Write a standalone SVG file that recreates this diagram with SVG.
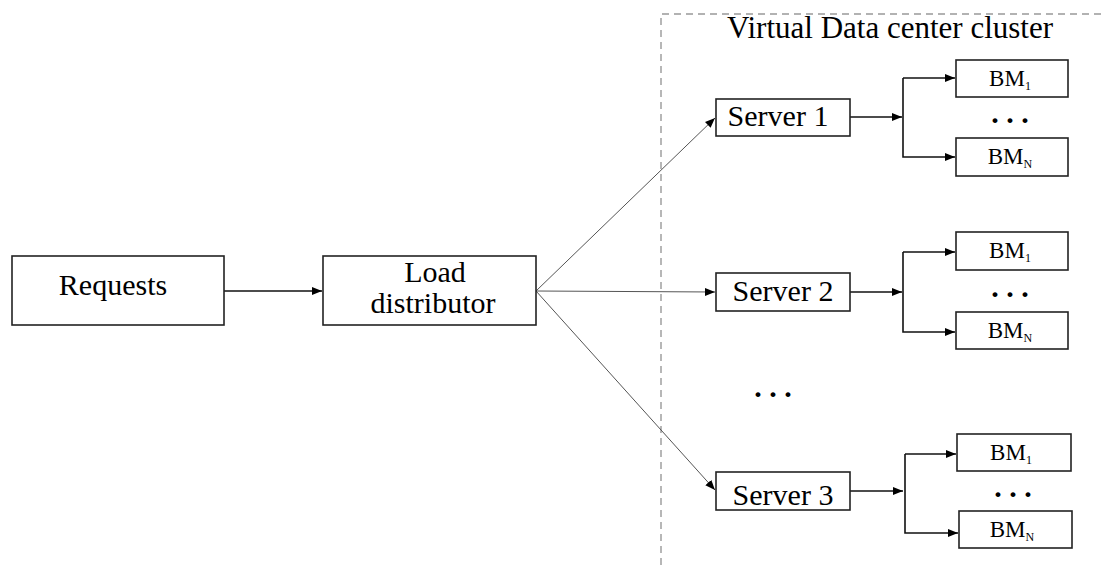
<svg xmlns="http://www.w3.org/2000/svg" width="1104" height="565" viewBox="0 0 1104 565">
<defs>
<style>
.box{fill:#fff;stroke:#222;stroke-width:1.6}
text{font-family:"Liberation Serif","Times New Roman","DejaVu Serif",serif;fill:#000;text-anchor:middle}
.big{font-size:30px}
.bm{font-size:23px}
.sub{font-size:12px}
.dots{font-size:30px;font-weight:bold}
.ln{stroke:#111;stroke-width:1.6;fill:none}
.dg{stroke:#555;stroke-width:1;fill:none}
</style>
<marker id="ah" viewBox="0 0 10 10" refX="10" refY="5" markerWidth="10" markerHeight="10" markerUnits="userSpaceOnUse" orient="auto">
<path d="M0,1 L10,5 L0,9 z" fill="#000"/>
</marker>
</defs>
<rect x="0" y="0" width="1104" height="565" fill="#fff"/>
<path d="M661,565 L661,14 L1104,14" fill="none" stroke="#999" stroke-width="1.4" stroke-dasharray="7,5"/>
<text x="890" y="38" style="font-size:31px">Virtual Data center cluster</text>
<g id="connectors">
<line class="ln" x1="224" y1="291" x2="322" y2="291" marker-end="url(#ah)"/>
<line class="dg" x1="536" y1="291" x2="715" y2="118" marker-end="url(#ah)"/>
<line class="dg" x1="536" y1="291" x2="715" y2="292" marker-end="url(#ah)"/>
<line class="dg" x1="536" y1="291" x2="715" y2="490" marker-end="url(#ah)"/>
<line class="ln" x1="850" y1="117" x2="902" y2="117" marker-end="url(#ah)"/>
<path class="ln" d="M903,78 L903,157 L955,157" marker-end="url(#ah)"/>
<line class="ln" x1="903" y1="78" x2="955" y2="78" marker-end="url(#ah)"/>
<line class="ln" x1="850" y1="292" x2="902" y2="292" marker-end="url(#ah)"/>
<path class="ln" d="M903,252 L903,332 L955,332" marker-end="url(#ah)"/>
<line class="ln" x1="903" y1="252" x2="955" y2="252" marker-end="url(#ah)"/>
<line class="ln" x1="850" y1="491" x2="903" y2="491" marker-end="url(#ah)"/>
<path class="ln" d="M905,454 L905,533 L958,533" marker-end="url(#ah)"/>
<line class="ln" x1="905" y1="454" x2="956" y2="454" marker-end="url(#ah)"/>
</g>
<g id="requests"><rect class="box" x="12" y="256" width="212" height="69"/><text class="big" x="113" y="295">Requests</text></g>
<g id="load"><rect class="box" x="323" y="256" width="213" height="69"/><text class="big" x="435" y="282">Load</text><text class="big" x="433" y="313">distributor</text></g>
<g id="server1"><rect class="box" x="716" y="99" width="134" height="37"/><text class="big" x="778" y="126">Server 1</text></g>
<g id="server2"><rect class="box" x="716" y="273" width="134" height="38"/><text class="big" x="783" y="301">Server 2</text></g>
<g id="server3"><rect class="box" x="716" y="472" width="134" height="38"/><text class="big" x="783" y="505">Server 3</text></g>
<g id="bm1a"><rect class="box" x="956" y="60" width="112" height="37"/><text class="bm" x="1010" y="86">BM<tspan class="sub" dy="4">1</tspan></text></g>
<g id="bmna"><rect class="box" x="956" y="138" width="112" height="38"/><text class="bm" x="1010" y="164">BM<tspan class="sub" dy="4">N</tspan></text></g>
<g id="bm1b"><rect class="box" x="956" y="232" width="112" height="38"/><text class="bm" x="1010" y="258">BM<tspan class="sub" dy="4">1</tspan></text></g>
<g id="bmnb"><rect class="box" x="956" y="312" width="112" height="37"/><text class="bm" x="1010" y="338">BM<tspan class="sub" dy="4">N</tspan></text></g>
<g id="bm1c"><rect class="box" x="957" y="434" width="114" height="37"/><text class="bm" x="1011" y="460">BM<tspan class="sub" dy="4">1</tspan></text></g>
<g id="bmnc"><rect class="box" x="959" y="511" width="113" height="37"/><text class="bm" x="1012" y="537">BM<tspan class="sub" dy="4">N</tspan></text></g>
<g id="dots">
<text class="dots" x="1010" y="123">. . .</text>
<text class="dots" x="1010" y="297">. . .</text>
<text class="dots" x="1013" y="497">. . .</text>
<text class="dots" x="773" y="397">. . .</text>
</g>
</svg>
